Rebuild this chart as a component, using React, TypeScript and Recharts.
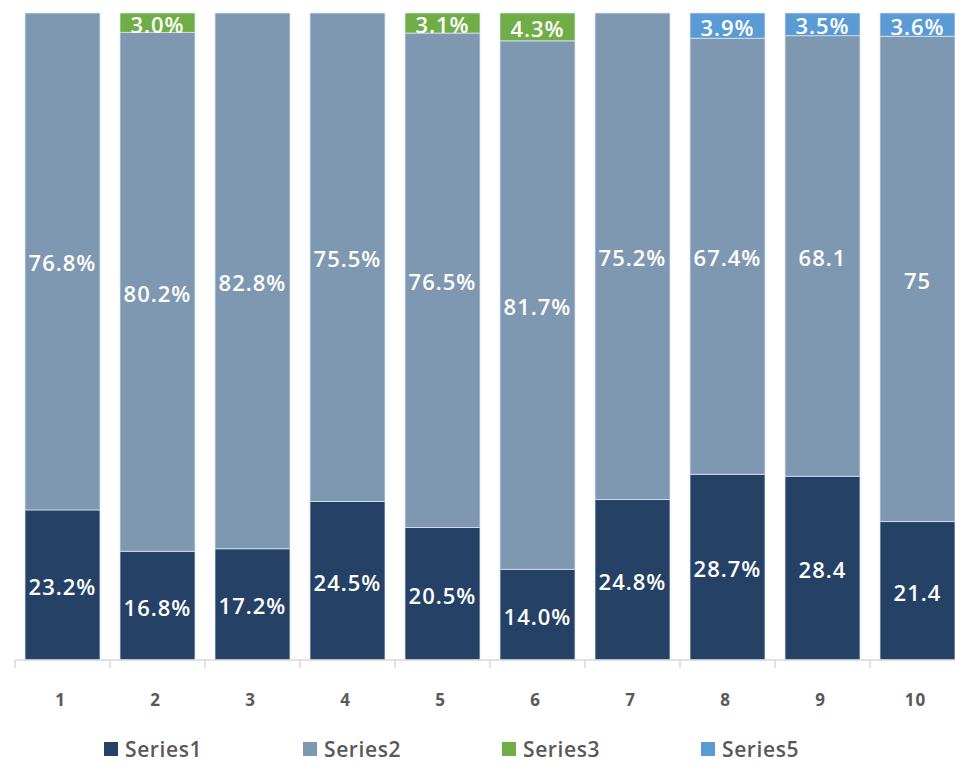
import React from "react";
import { BarChart, Bar, XAxis, YAxis, Legend, LabelList } from "recharts";

const categories = ["1", "2", "3", "4", "5", "6", "7", "8", "9", "10"];
const series1 = [23.2, 16.8, 17.2, 24.5, 20.5, 14.0, 24.8, 28.7, 28.4, 21.4];
const series2 = [76.8, 80.2, 82.8, 75.5, 76.5, 81.7, 75.2, 67.4, 68.1, 75];
const series3 = [null, 3.0, null, null, 3.1, 4.3, null, null, null, null];
const series5 = [null, null, null, null, null, null, null, 3.9, 3.5, 3.6];
const showPercent = [true, true, true, true, true, true, true, true, false, false];

const seriesDefs = [
  { key: "s1", name: "Series1", color: "#254266" },
  { key: "s2", name: "Series2", color: "#7f98b2" },
  { key: "s3", name: "Series3", color: "#70ad47" },
  { key: "s5", name: "Series5", color: "#5b9bd5" },
];

const data = categories.map((c, i) => ({
  cat: c,
  s1: series1[i],
  s2: series2[i],
  s3: series3[i],
  s5: series5[i],
}));

const CHART_W = 975;
const CHART_H = 765;
const MARGIN = { top: 13, right: 10, left: 15, bottom: 0 };
const HALF_BAND = (CHART_W - MARGIN.left - MARGIN.right) / categories.length / 2;
const FONT = "'Open Sans', 'DejaVu Sans', sans-serif";

const renderLabel = (props: any) => {
  const { x, y, width, height, value, index } = props;
  if (value === null || value === undefined) return null;
  const text = showPercent[index] ? `${Number(value).toFixed(1)}%` : String(value);
  return (
    <text
      x={x + width / 2}
      y={y + height / 2 + 1}
      fill="#ffffff"
      textAnchor="middle"
      dominantBaseline="central"
      fontFamily={FONT}
      fontWeight={600}
      fontSize={22}
      letterSpacing={1}
    >
      {text}
    </text>
  );
};

const CustomTick = (props: any) => {
  const { x, y, payload } = props;
  return (
    <g>
      <line x1={x - HALF_BAND} x2={x - HALF_BAND} y1={y} y2={y + 8} stroke="#d9d9d9" strokeWidth={1.5} />
      <text
        x={x - 2}
        y={y + 39}
        textAnchor="middle"
        dominantBaseline="central"
        fill="#595959"
        fontFamily={FONT}
        fontWeight={700}
        fontSize={17}
        letterSpacing={1}
      >
        {payload.value}
      </text>
    </g>
  );
};

const renderLegend = (props: any) => {
  const { payload } = props;
  return (
    <div style={{ height: 45, position: "relative" }}>
      <div style={{ display: "flex", paddingLeft: 89, paddingTop: 17 }}>
        {payload.map((p: any) => (
          <div key={p.value} style={{ width: 199, display: "flex", alignItems: "center", height: 24 }}>
            <span style={{ display: "inline-block", width: 14, height: 14, background: p.color, marginRight: 7 }} />
            <span style={{ fontFamily: FONT, fontSize: 21, lineHeight: "24px", fontWeight: 600, color: "#595959", letterSpacing: 0.6 }}>{p.value}</span>
          </div>
        ))}
      </div>
    </div>
  );
};

export default function App() {
  return (
    <div style={{ position: "absolute", left: 0, top: 0, width: 955, height: 765, overflow: "hidden", background: "#fff" }}>
      <BarChart width={CHART_W} height={CHART_H} data={data} margin={MARGIN} stackOffset="expand">
        <XAxis
          dataKey="cat"
          axisLine={{ stroke: "#d9d9d9", strokeWidth: 1.5 }}
          tickLine={false}
          tickSize={0}
          tickMargin={0}
          height={60}
          tick={<CustomTick />}
          interval={0}
        />
        <YAxis hide domain={[0, 1]} />
        <Legend verticalAlign="bottom" content={renderLegend} />
        {seriesDefs.map((s) => (
          <Bar
            key={s.key}
            dataKey={s.key}
            name={s.name}
            stackId="a"
            fill={s.color}
            barSize={75}
            stroke="#dfe6ee"
            strokeWidth={0.75}
            isAnimationActive={false}
          >
            <LabelList dataKey={s.key} content={renderLabel} />
          </Bar>
        ))}
      </BarChart>
    </div>
  );
}
